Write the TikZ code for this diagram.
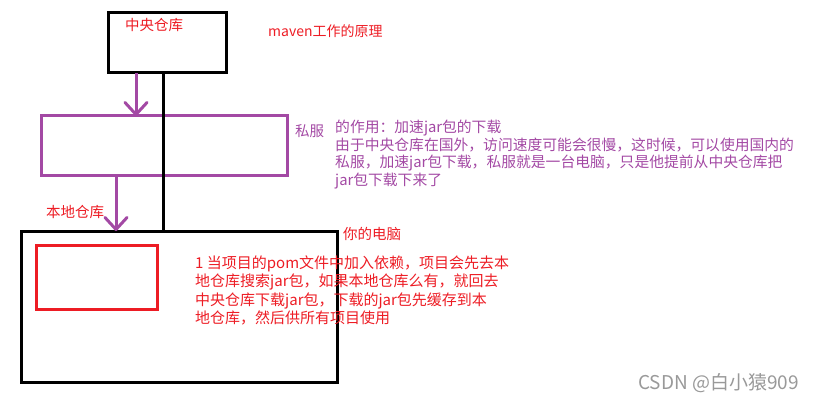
\documentclass[tikz,border=0pt]{standalone}
\usepackage{fontspec}
\setmainfont{Noto Sans CJK SC}
\usepackage{xcolor}
\usetikzlibrary{arrows.meta, positioning}
\definecolor{mspurple}{HTML}{A349A4}
\definecolor{msred}{HTML}{ED1C24}

\begin{document}
\begin{tikzpicture}[
    x=1pt, y=-1pt,
    box/.style={rectangle, draw, line width=3pt, inner sep=0pt, outer sep=0pt},
    repo/.style={box, minimum width=118pt, minimum height=60pt},
    mirror/.style={box, draw=mspurple, minimum width=246pt, minimum height=59pt},
    pc/.style={box, minimum width=316pt, minimum height=151pt},
    localrepo/.style={box, draw=msred, minimum width=121pt, minimum height=64pt},
    link/.style={line width=3pt},
    arrow/.style={-{Straight Barb[length=12pt, width=22pt, round]}, line width=3pt, draw=mspurple},
    label/.style={anchor=base west, inner sep=0pt, font=\fontsize{14.5}{17.7}\selectfont},
    note/.style={label, align=left},
]
\useasboundingbox (0,0) rectangle (819,401);

% 方框
\node[repo] (central) at (167,43) {};
\node[mirror] (private) at (164,145.5) {};
\node[pc] (computer) at (179,306.5) {};
\node[localrepo] (local) at (96.5,277) {};

% 文字
\node[label, text=msred] (centrallabel) at (125,30.5) {中央仓库};
\node[label, text=msred, font=\fontsize{14}{16}\selectfont] (title) at (268,37) {maven工作的原理};
\node[label, text=mspurple] (privatelabel) at (295,136.5) {私服};
\node[note, text=mspurple, font=\fontsize{14.8}{17.7}\selectfont] (privatenote) at (335,185.5) {的作用：加速jar包的下载\\由于中央仓库在国外，访问速度可能会很慢，这时候，可以使用国内的\\私服，加速jar包下载，私服就是一台电脑，只是他提前从中央仓库把\\jar包下载下来了};
\node[label, text=msred] (locallabel) at (46,217.5) {本地仓库};
\node[label, text=msred] (pclabel) at (343,239.5) {你的电脑};
\node[note, text=msred, font=\fontsize{15}{18.3}\selectfont] (localnote) at (195,323.5) {1 当项目的pom文件中加入依赖，项目会先去本\\地仓库搜索jar包，如果本地仓库么有，就回去\\中央仓库下载jar包，下载的jar包先缓存到本\\地仓库，然后供所有项目使用};
\node[label, text=black!40, font=\fontsize{19}{22}\selectfont] (mark) at (638,389) {CSDN @白小猿909};

% 连线
\draw[link] ([xshift=-4pt]central.south) -- ([xshift=-16pt]computer.north);
\draw[arrow] ([xshift=-31pt]central.south) -- ([xshift=-28pt]private.north);
\draw[arrow] ([xshift=-48pt]private.south) -- ([xshift=-63pt]computer.north);

\end{tikzpicture}
\end{document}
